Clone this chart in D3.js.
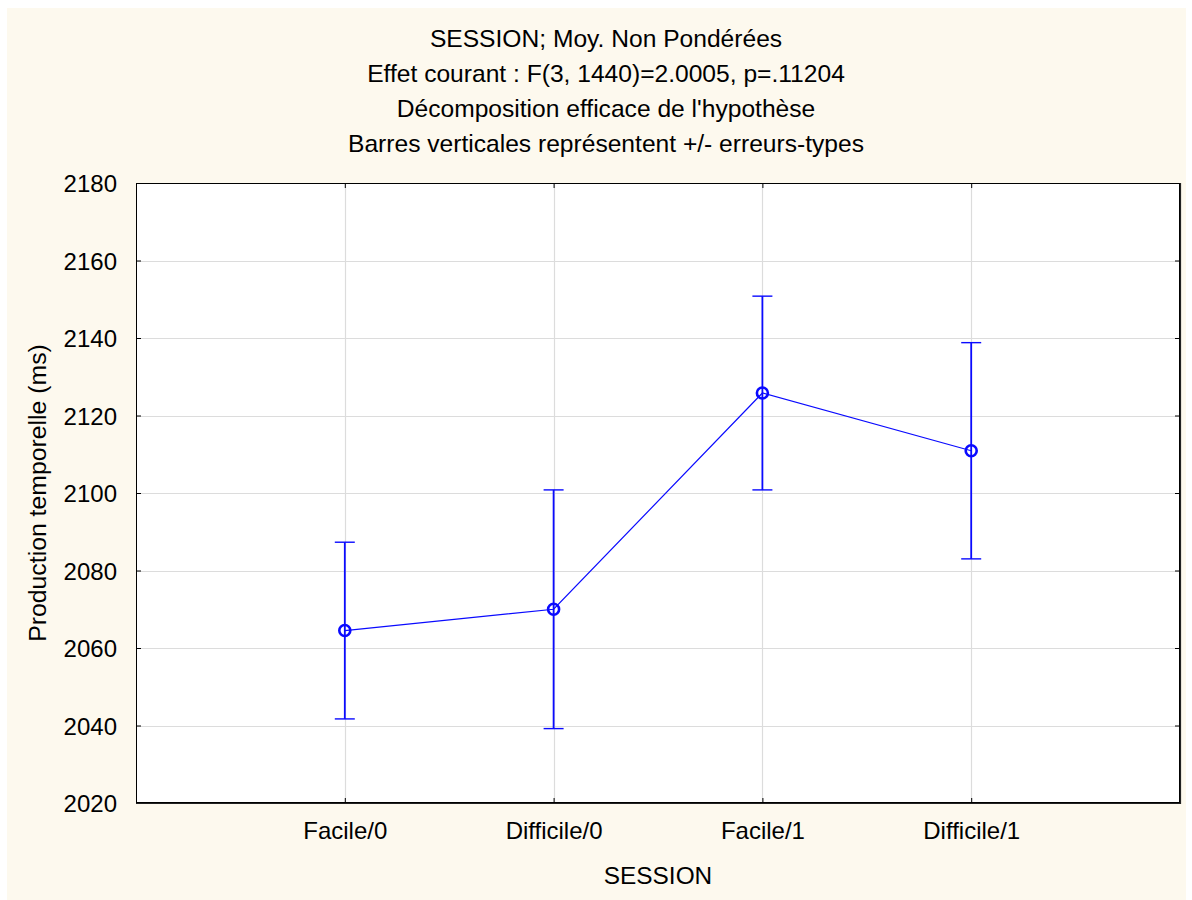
<!DOCTYPE html>
<html>
<head>
<meta charset="utf-8">
<script src="https://cdn.jsdelivr.net/npm/d3@7"></script>
<style>
  html, body { margin: 0; padding: 0; background: #ffffff; }
  svg { display: block; }
  text { font-family: Arial, "Liberation Sans", sans-serif; fill: #000; }
</style>
</head>
<body>
<svg id="chart" width="1192" height="900"></svg>
<script>
// Categories of the SESSION factor
const sessions = ["Facile/0", "Difficile/0", "Facile/1", "Difficile/1"];
// Unweighted means of temporal production (ms)
const means = [2064.5, 2070.0, 2125.8, 2110.9];
// Standard errors (half length of each vertical bar)
const stdErrors = [22.8, 30.8, 25.0, 27.9];
// Y axis tick values
const yTicks = [2020, 2040, 2060, 2080, 2100, 2120, 2140, 2160, 2180];
// Title lines
const titleLines = [
  "SESSION; Moy. Non Pondérées",
  "Effet courant : F(3, 1440)=2.0005, p=.11204",
  "Décomposition efficace de l'hypothèse",
  "Barres verticales représentent +/- erreurs-types"
];
const xTitle = "SESSION";
const yTitle = "Production temporelle (ms)";

const svg = d3.select("#chart");
const W = 1192, H = 900;
const plot = { left: 136, top: 183, right: 1180, bottom: 803 };
const blue = "#0a0aff";

// Page background
svg.append("rect").attr("x", 7).attr("y", 8).attr("width", 1179).attr("height", H - 8)
  .attr("fill", "#fdf9ee");

const x = d3.scalePoint().domain(sessions).range([plot.left, plot.right]).padding(1);
const y = d3.scaleLinear().domain([2020, 2180]).range([plot.bottom, plot.top]);

// Plot area
svg.append("rect").attr("x", plot.left).attr("y", plot.top)
  .attr("width", plot.right - plot.left).attr("height", plot.bottom - plot.top)
  .attr("fill", "#ffffff");

// Grid lines
const grid = svg.append("g").attr("stroke", "#dcdcdc").attr("stroke-width", 1.2);
grid.selectAll("line.h").data(yTicks.slice(1, -1)).join("line")
  .attr("x1", plot.left).attr("x2", plot.right)
  .attr("y1", d => Math.round(y(d)) + 0.5).attr("y2", d => Math.round(y(d)) + 0.5);
grid.selectAll("line.v").data(sessions).join("line")
  .attr("y1", plot.top).attr("y2", plot.bottom)
  .attr("x1", d => Math.round(x(d)) + 0.5).attr("x2", d => Math.round(x(d)) + 0.5);

// Axes with inward ticks on all four sides
const tickLen = 5;
const yLeft = svg.append("g").attr("transform", `translate(${plot.left},0)`)
  .call(d3.axisLeft(y).tickValues(yTicks).tickFormat(d3.format("d"))
    .tickSize(-tickLen).tickPadding(14 + tickLen));
const yRight = svg.append("g").attr("transform", `translate(${plot.right},0)`)
  .call(d3.axisRight(y).tickValues(yTicks).tickSize(-tickLen).tickFormat(""));
const xBottom = svg.append("g").attr("transform", `translate(0,${plot.bottom})`)
  .call(d3.axisBottom(x).tickSize(-tickLen).tickPadding(14 + tickLen));
const xTop = svg.append("g").attr("transform", `translate(0,${plot.top})`)
  .call(d3.axisTop(x).tickSize(-tickLen).tickFormat(""));

[yLeft, yRight, xBottom, xTop].forEach(g => {
  g.select(".domain").remove();
  g.selectAll(".tick line").attr("stroke", "#000").attr("stroke-width", 1);
  g.selectAll(".tick text").attr("font-size", 24).attr("font-family", "Arial, 'Liberation Sans', sans-serif")
    .attr("fill", "#000");
});
yLeft.selectAll(".tick text").attr("dy", "0.36em");
xBottom.selectAll(".tick text").attr("dy", "0.71em");

// Frame: thin top/left, slightly heavier right/bottom
svg.append("rect").attr("x", plot.left + 0.5).attr("y", plot.top + 0.5)
  .attr("width", plot.right - plot.left - 1).attr("height", plot.bottom - plot.top - 1)
  .attr("fill", "none").attr("stroke", "#000").attr("stroke-width", 1);
svg.append("path")
  .attr("d", `M${plot.right + 0.5},${plot.top} V${plot.bottom + 0.5} H${plot.left}`)
  .attr("fill", "none").attr("stroke", "#222").attr("stroke-width", 1.2);

// Error bars
const capHalf = 10;
const bars = svg.append("g").attr("stroke", blue);
sessions.forEach((s, i) => {
  const cx = x(s);
  const yTop = y(means[i] + stdErrors[i]);
  const yBot = y(means[i] - stdErrors[i]);
  bars.append("line").attr("x1", cx).attr("x2", cx).attr("y1", yTop).attr("y2", yBot)
    .attr("stroke-width", 1.8);
  bars.append("line").attr("x1", cx - capHalf).attr("x2", cx + capHalf).attr("y1", yTop).attr("y2", yTop)
    .attr("stroke-width", 1.4);
  bars.append("line").attr("x1", cx - capHalf).attr("x2", cx + capHalf).attr("y1", yBot).attr("y2", yBot)
    .attr("stroke-width", 1.4);
});

// Line through the means
const pts = sessions.map((s, i) => [x(s), y(means[i])]);
svg.append("path").attr("d", d3.line()(pts))
  .attr("fill", "none").attr("stroke", blue).attr("stroke-width", 1.2);

// Mean markers
svg.append("g").selectAll("circle").data(pts).join("circle")
  .attr("cx", d => d[0]).attr("cy", d => d[1]).attr("r", 5.5)
  .attr("fill", "none").attr("stroke", blue).attr("stroke-width", 2.6);

// Title
svg.append("g").selectAll("text").data(titleLines).join("text")
  .attr("x", 606)
  .attr("y", (d, i) => 47 + i * 35)
  .attr("text-anchor", "middle").attr("font-size", 24.6).text(d => d);

// Axis titles
svg.append("text").attr("x", (plot.left + plot.right) / 2).attr("y", 884)
  .attr("text-anchor", "middle").attr("font-size", 24.4).text(xTitle);
svg.append("text")
  .attr("transform", `translate(46,${(plot.top + plot.bottom) / 2}) rotate(-90)`)
  .attr("text-anchor", "middle").attr("font-size", 24.8).text(yTitle);
</script>
</body>
</html>
